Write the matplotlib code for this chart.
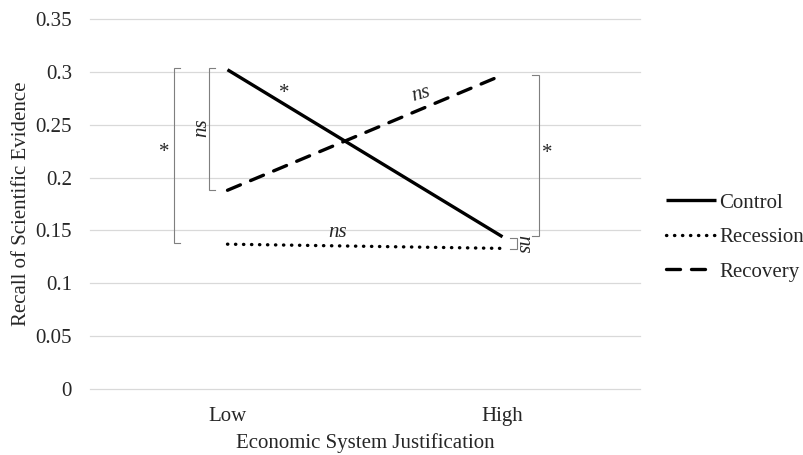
import matplotlib.pyplot as plt

plt.rcParams['font.family'] = ['Liberation Serif', 'DejaVu Serif']

# data
levels = ['Low', 'High']
control = [0.302, 0.144]
recession = [0.137, 0.133]
recovery = [0.188, 0.297]
yticks = [0, 0.05, 0.1, 0.15, 0.2, 0.25, 0.3, 0.35]
ytick_labels = ['0', '0.05', '0.1', '0.15', '0.2', '0.25', '0.3', '0.35']

FS = 15
TXT = '#262626'

fig = plt.figure(figsize=(8.04, 4.55), dpi=100)
ax = fig.add_axes([90/804, 1-389/455, 550/804, 370/455])

x = [0, 1]
ax.plot(x, control, color='black', lw=2.4, solid_capstyle='butt', label='Control')
ax.plot(x, recession, color='black', lw=2.4, linestyle=(0, (0.1, 2.3)),
        dash_capstyle='round', label='Recession')
ax.plot(x, recovery, color='black', lw=2.4, linestyle=(0, (4.2, 3.3)),
        dash_capstyle='round', label='Recovery')

ax.set_xlim(-0.5, 1.5)
ax.set_ylim(0, 0.35)
ax.set_xticks(x)
ax.set_xticklabels(levels)
ax.set_yticks(yticks)
ax.set_yticklabels(ytick_labels)
ax.tick_params(axis='y', length=0, labelsize=FS, colors=TXT, pad=13)
ax.tick_params(axis='x', length=0, labelsize=FS, colors=TXT, pad=13)
ax.grid(axis='y', color='#d9d9d9', lw=0.9)
for gl in ax.get_ygridlines():
    gl.set_clip_on(False)
ax.set_axisbelow(True)
for s in ax.spines.values():
    s.set_visible(False)

ax.set_xlabel('Economic System Justification', fontsize=FS, color=TXT, labelpad=5)
ax.set_ylabel('Recall of Scientific Evidence', fontsize=FS, color=TXT, labelpad=3)

# significance brackets
def bracket(xpos, y0, y1, d):
    ax.plot([xpos + d, xpos, xpos, xpos + d], [y0, y0, y1, y1],
            color='#7f7f7f', lw=0.8, solid_joinstyle='miter', clip_on=False)

bracket(-0.196, 0.3035, 0.138, 0.022)
bracket(-0.068, 0.3035, 0.188, 0.022)
bracket(1.131, 0.297, 0.1447, -0.022)
bracket(1.051, 0.1430, 0.1320, -0.022)

ax.text(-0.230, 0.224, '*', ha='center', va='center', fontsize=FS, color=TXT)
ax.text(-0.095, 0.247, 'ns', ha='center', va='center', fontsize=FS, style='italic',
        rotation=90, color=TXT)
ax.text(1.164, 0.223, '*', ha='center', va='center', fontsize=FS, color=TXT)
ax.text(1.073, 0.137, 'ns', ha='center', va='center', fontsize=FS, style='italic',
        rotation=-90, color=TXT)
ax.text(0.208, 0.280, '*', ha='center', va='center', fontsize=FS, color=TXT)
ax.text(0.705, 0.279, 'ns', ha='center', va='center', fontsize=FS, style='italic',
        rotation=16, color=TXT)
ax.text(0.400, 0.148, 'ns', ha='center', va='center', fontsize=FS, style='italic',
        color=TXT)

leg = ax.legend(loc='center left', bbox_to_anchor=(1.013, 0.41), frameon=False,
                fontsize=FS, handlelength=2.4, handletextpad=0.15, labelspacing=0.72)
for t in leg.get_texts():
    t.set_color(TXT)

fig.savefig('out.png', dpi=100)
